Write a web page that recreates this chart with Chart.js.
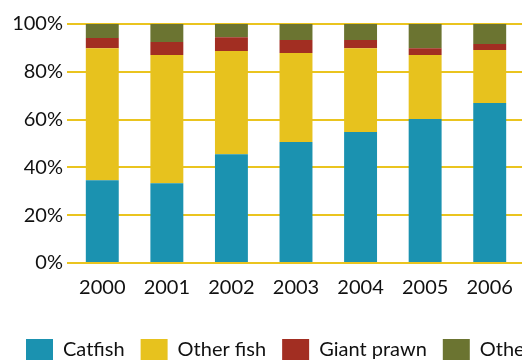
<!DOCTYPE html>
<html>
<head>
<meta charset="utf-8">
<script src="https://cdn.jsdelivr.net/npm/chart.js@4"></script>
<style>
  html, body { margin: 0; padding: 0; background: #fff; }
  #wrap { width: 522px; height: 363px; overflow: hidden; position: relative; }
</style>
</head>
<body>
<div id="wrap"><canvas id="chart" width="600" height="363"></canvas></div>
<script>
const years = ['2000', '2001', '2002', '2003', '2004', '2005', '2006'];
const catfish    = [34.6, 33.4, 45.5, 50.6, 54.8, 60.2, 66.9];
const otherFish  = [55.3, 53.6, 43.2, 37.3, 35.1, 26.8, 22.2];
const giantPrawn = [4.2, 5.5, 5.8, 5.4, 3.4, 2.9, 2.5];
const other      = [5.9, 7.5, 5.5, 6.7, 6.7, 10.1, 8.4];
const yTicks = [0, 20, 40, 60, 80, 100];

const gridYellow = '#eac41f';
const font = { family: 'Lato, "Noto Sans", sans-serif', size: 20 };

const ctx = document.getElementById('chart').getContext('2d');
new Chart(ctx, {
  type: 'bar',
  data: {
    labels: years,
    datasets: [
      { label: 'Catfish', data: catfish, backgroundColor: '#1b92b0' },
      { label: 'Other fish', data: otherFish, backgroundColor: '#e7c21e' },
      { label: 'Giant prawn', data: giantPrawn, backgroundColor: '#a22e22' },
      { label: 'Other', data: other, backgroundColor: '#6b7431' }
    ]
  },
  options: {
    responsive: false,
    animation: false,
    categoryPercentage: 1,
    barPercentage: 0.51,
    layout: { padding: { left: 10, right: 0, top: 24, bottom: -7 } },
    plugins: {
      tooltip: { enabled: false },
      legend: {
        position: 'bottom',
        align: 'start',
        labels: {
          boxWidth: 27,
          boxHeight: 21,
          padding: 16,
          color: '#111',
          font: font
        }
      }
    },
    scales: {
      x: {
        stacked: true,
        grid: { display: false },
        border: { display: false },
        afterFit: s => { s.height += 18; },  // extra gap above the legend
        ticks: { color: '#111', font: font, padding: 5 }
      },
      y: {
        stacked: true,
        min: 0,
        max: 100,
        afterBuildTicks: s => { s.ticks = yTicks.map(v => ({ value: v })); },
        afterFit: s => { s.width = 60; },
        grid: { color: gridYellow, lineWidth: 2, tickLength: 3 },
        border: { display: false },
        ticks: { color: '#111', font: font, padding: 4, callback: v => v + '%' }
      },
      // empty right-hand box so the plot ends at x=522 while the legend can run past the edge
      spacer: {
        position: 'right',
        display: true,
        afterFit: s => { s.width = 78; },
        grid: { display: false },
        border: { display: false },
        ticks: { display: false }
      }
    }
  }
});
</script>
</body>
</html>
